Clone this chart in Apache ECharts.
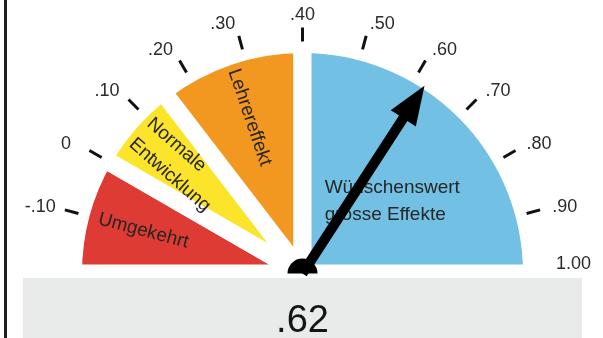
<!DOCTYPE html>
<html>
<head>
<meta charset="utf-8">
<script src="https://cdn.jsdelivr.net/npm/echarts@6/dist/echarts.min.js"></script>
<style>
  html, body { margin: 0; padding: 0; background: #fff; }
  #chart { width: 603px; height: 338px; }
</style>
</head>
<body>
<div id="chart"></div>
<script>
// Effect-size barometer: scale, zones and the measured effect
const scaleMin = -0.2;
const scaleMax = 1.0;
const zoneNames = ['Umgekehrt', 'Normale\nEntwicklung', 'Lehrereffekt', 'Wünschenswert\ngrosse Effekte'];
const zoneBounds = [-0.2, 0, 0.15, 0.40, 1.0];
const zoneColors = ['#dd3b33', '#fce42b', '#f2971f', '#72c0e4'];
const tickValues = [-0.1, 0, 0.1, 0.2, 0.3, 0.4, 0.5, 0.6, 0.7, 0.8, 0.9, 1.0];
const tickLabels = ['-.10', '0', '.10', '.20', '.30', '.40', '.50', '.60', '.70', '.80', '.90', '1.00'];
const effectValue = 0.62;

const FONT = '"Liberation Sans", Arial, Helvetica, sans-serif';
const TEXT = '#262626';
const CENTER = [302.5, 273.5];
const STEP = 0.1;

// angle (deg) of a scale value on the half-dial, 180 at min, 0 at max
const angleOf = v => 180 - (v - scaleMin) / (scaleMax - scaleMin) * 180;
const fmt = v => v.toFixed(2).replace(/^(-?)0\./, '$1.');

// zone slices (upper half) + an empty lower half
const zoneData = zoneNames.map((name, i) => {
  const item = {
    name,
    value: zoneBounds[i + 1] - zoneBounds[i],
    itemStyle: { color: zoneColors[i] }
  };
  if (i === zoneNames.length - 1) {
    item.label = { rotate: 0, padding: [22, 0, 0, 13] };
  }
  return item;
});
zoneData.push({
  name: '',
  value: scaleMax - scaleMin,
  itemStyle: { color: 'transparent', borderWidth: 0 },
  label: { show: false }
});

// tick marks: all labelled values except the end of the scale
const tickMarks = tickValues.slice(0, -1);

function tickLabel(v) {
  const i = tickValues.findIndex(t => Math.abs(t - v) < 1e-6);
  if (i < 0) return '';
  const mid = zoneBounds[3];
  let side = 'c';
  if (Math.abs(v - scaleMax) < 1e-6) side = 'e';
  else if (v < mid - 1e-6) side = 'l';
  else if (v > mid + 1e-6) side = 'r';
  return '{' + side + '|' + tickLabels[i] + '}';
}

const tickText = { fontSize: 18, color: '#2a2a2a', fontFamily: FONT };

const chart = echarts.init(document.getElementById('chart'), null, { renderer: 'canvas' });
chart.setOption({
  animation: false,
  backgroundColor: '#ffffff',
  graphic: [
    { type: 'rect', z: 3, silent: true, shape: { x: 23, y: 278, width: 559, height: 70 }, style: { fill: '#e9eaea' } },
    { type: 'rect', z: 3, silent: true, shape: { x: 4, y: 0, width: 3, height: 338 }, style: { fill: '#1e1e1e' } }
  ],
  series: [
    {
      type: 'pie',
      z: 2,
      silent: true,
      center: CENTER,
      radius: [0, 229.5],
      startAngle: 180,
      clockwise: true,
      avoidLabelOverlap: false,
      itemStyle: { borderColor: '#ffffff', borderWidth: 18 },
      label: {
        show: true,
        position: 'inside',
        rotate: 'radial',
        padding: [0, 94, 0, 0],
        formatter: p => p.name.split('\n').map(s => '{z|' + s + '}').join('\n'),
        rich: {
          z: { align: 'left', fontSize: 19, lineHeight: 27, color: TEXT, fontFamily: FONT }
        }
      },
      labelLine: { show: false },
      emphasis: { disabled: true },
      data: zoneData
    },
    {
      type: 'gauge',
      z: 4,
      silent: true,
      center: CENTER,
      radius: 246,
      min: tickMarks[0],
      max: tickMarks[tickMarks.length - 1],
      startAngle: angleOf(tickMarks[0]),
      endAngle: angleOf(tickMarks[tickMarks.length - 1]),
      splitNumber: tickMarks.length - 1,
      axisLine: { show: false, lineStyle: { width: 0 } },
      splitLine: { show: true, length: 14, distance: 0, lineStyle: { color: '#111', width: 3, cap: 'butt' } },
      axisTick: { show: false },
      axisLabel: { show: false },
      pointer: { show: false },
      anchor: { show: false },
      progress: { show: false },
      title: { show: false },
      detail: { show: false },
      data: [{ value: tickMarks[0] }]
    },
    {
      type: 'gauge',
      z: 5,
      silent: true,
      center: CENTER,
      radius: 258,
      min: scaleMin,
      max: scaleMax,
      startAngle: 180,
      endAngle: 0,
      splitNumber: Math.round((scaleMax - scaleMin) / STEP),
      axisLine: { show: false, lineStyle: { width: 0 } },
      splitLine: { show: false, length: 0, distance: 0 },
      axisTick: { show: false },
      axisLabel: {
        show: true,
        distance: 0,
        rotate: 0.0001,
        formatter: tickLabel,
        fontSize: 18,
        color: '#2a2a2a',
        fontFamily: FONT,
        rich: {
          c: Object.assign({}, tickText),
          l: Object.assign({ padding: [0, 26, 0, 0] }, tickText),
          r: Object.assign({ padding: [0, 0, 0, 26] }, tickText),
          e: Object.assign({ padding: [0, 0, 19, 26] }, tickText)
        }
      },
      pointer: {
        show: true,
        icon: 'path://M15 0 L30 39 L20 39 L20 224 L10 224 L10 39 L0 39 Z',
        length: 224,
        width: 30,
        offsetCenter: [0, 0],
        keepAspect: false,
        itemStyle: { color: '#000000' }
      },
      anchor: { show: false },
      progress: { show: false },
      title: { show: false },
      detail: {
        show: true,
        offsetCenter: [0, 48],
        formatter: fmt,
        fontSize: 38,
        lineHeight: 40,
        fontWeight: 'normal',
        color: '#151515',
        fontFamily: FONT,
        valueAnimation: false
      },
      data: [{ value: effectValue }]
    },
    {
      // needle hub
      type: 'pie',
      z: 6,
      silent: true,
      center: CENTER,
      radius: [0, 15],
      startAngle: 180,
      label: { show: false },
      labelLine: { show: false },
      emphasis: { disabled: true },
      data: [
        { value: 1, itemStyle: { color: '#000000' } },
        { value: 1, itemStyle: { color: 'transparent' } }
      ]
    }
  ]
});
</script>
</body>
</html>
